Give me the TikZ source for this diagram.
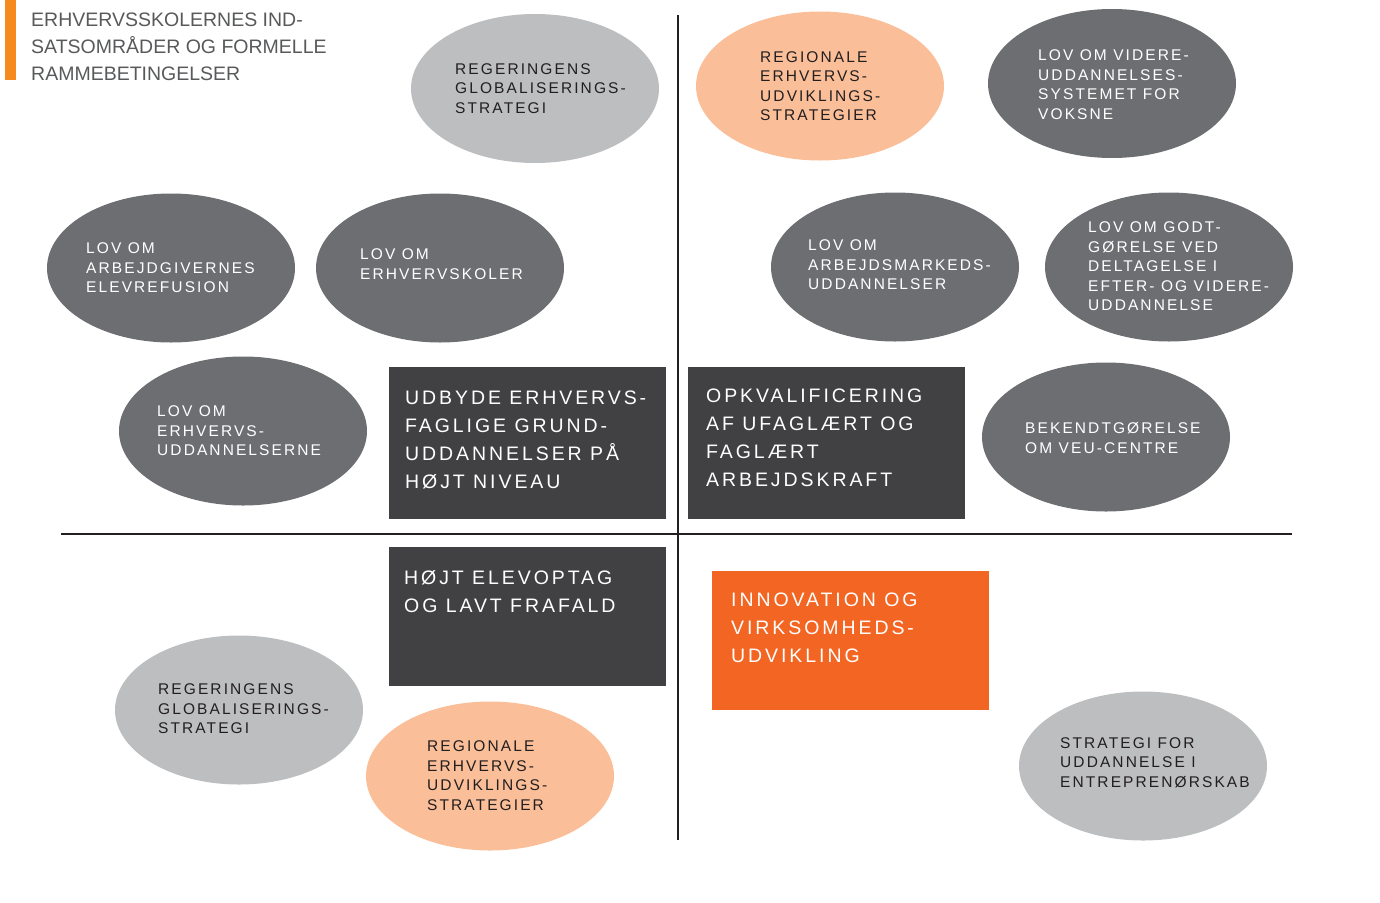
\documentclass[tikz,border=0pt]{standalone}
\usepackage{fontspec}
\setmainfont{Liberation Sans}
\newfontfamily\ovalfont{Liberation Sans}[LetterSpace=13.5]
\newfontfamily\panelfont{Liberation Sans}[LetterSpace=15]
\usetikzlibrary{shapes.geometric}

\definecolor{lightgrey}{HTML}{BCBEC0}
\definecolor{peach}{HTML}{FABE98}
\definecolor{midgrey}{HTML}{6D6E71}
\definecolor{panelgrey}{HTML}{414042}
\definecolor{signal}{HTML}{F26522}
\definecolor{barorange}{HTML}{F58A1F}
\definecolor{ink}{HTML}{231F20}
\definecolor{titlegrey}{HTML}{58595B}

\tikzset{
  oval/.style={ellipse, minimum width=248pt, minimum height=149pt, inner sep=0pt},
  lightoval/.style={oval, fill=lightgrey},
  peachoval/.style={oval, fill=peach},
  darkoval/.style={oval, fill=midgrey},
  ovaltext/.style={anchor=west, align=left, inner sep=0pt,
    font=\ovalfont\fontsize{15.5}{19.5}\selectfont, text=ink},
  ovaltextw/.style={ovaltext, text=white},
  panel/.style={anchor=north west, minimum width=277pt, inner sep=0pt, fill=panelgrey},
  paneltext/.style={anchor=north west, align=left, inner sep=0pt, text=white,
    font=\panelfont\fontsize{19.5}{28}\selectfont},
  axis/.style={draw=ink, line width=2pt},
}

\begin{document}
\begin{tikzpicture}[x=1pt, y=-1pt]
\useasboundingbox (0,0) rectangle (1380,902);

% heading with its accent bar
\fill[barorange] (5,0) rectangle (16,80);
\node[anchor=north west, align=left, inner sep=0pt, text=titlegrey,
  font=\fontsize{19.5}{27}\selectfont] (title) at (31,13)
  {ERHVERVSSKOLERNES IND-\\SATSOMRÅDER OG FORMELLE\\RAMMEBETINGELSER};

% quadrant axes
\coordinate (vtop) at (678,15);
\coordinate (vbot) at (678,840);
\coordinate (hleft) at (61,534);
\coordinate (hright) at (1292,534);
\draw[axis] (vtop) -- (vbot);
\draw[axis] (hleft) -- (hright);

% ovals
\node[lightoval] (e1) at (535,88.5) {};
\node[peachoval] (e2) at (820,86) {};
\node[darkoval] (e3) at (1112,83.5) {};
\node[darkoval] (e4) at (171,268) {};
\node[darkoval] (e5) at (440,268) {};
\node[darkoval] (e6) at (895,267) {};
\node[darkoval] (e7) at (1169,267) {};
\node[darkoval] (e8) at (243,431) {};
\node[darkoval] (e9) at (1106,437) {};
\node[lightoval] (e10) at (239,710) {};
\node[peachoval] (e11) at (490,776) {};
\node[lightoval] (e12) at (1143,766) {};

\node[ovaltext] (t1) at (455,88.5) {REGERINGENS\\GLOBALISERINGS-\\STRATEGI};
\node[ovaltext] (t2) at (760,86) {REGIONALE\\ERHVERVS-\\UDVIKLINGS-\\STRATEGIER};
\node[ovaltextw] (t3) at (1038,84.5) {LOV OM VIDERE-\\UDDANNELSES-\\SYSTEMET FOR\\VOKSNE};
\node[ovaltextw] (t4) at (86,268) {LOV OM\\ARBEJDGIVERNES\\ELEVREFUSION};
\node[ovaltextw] (t5) at (360,264) {LOV OM\\ERHVERVSKOLER};
\node[ovaltextw] (t6) at (808,265) {LOV OM\\ARBEJDSMARKEDS-\\UDDANNELSER};
\node[ovaltextw] (t7) at (1088,266.5) {LOV OM GODT-\\GØRELSE VED\\DELTAGELSE I\\EFTER- OG VIDERE-\\UDDANNELSE};
\node[ovaltextw] (t8) at (157,431) {LOV OM\\ERHVERVS-\\UDDANNELSERNE};
\node[ovaltextw] (t9) at (1025,438) {BEKENDTGØRELSE\\OM VEU-CENTRE};
\node[ovaltext] (t10) at (158,709) {REGERINGENS\\GLOBALISERINGS-\\STRATEGI};
\node[ovaltext] (t11) at (427,775.5) {REGIONALE\\ERHVERVS-\\UDVIKLINGS-\\STRATEGIER};
\node[ovaltext] (t12) at (1060,762.5) {STRATEGI FOR\\UDDANNELSE I\\ENTREPRENØRSKAB};

% goal panels
\node[panel, minimum height=152pt] (r1) at (389,367) {};
\node[panel, minimum height=152pt] (r2) at (688,367) {};
\node[panel, minimum height=139pt] (r3) at (389,547) {};
\node[panel, minimum height=139pt, fill=signal] (r4) at (712,571) {};

\node[paneltext] (p1) at (405,391) {UDBYDE ERHVERVS-\\FAGLIGE GRUND-\\UDDANNELSER PÅ\\HØJT NIVEAU};
\node[paneltext] (p2) at (706,389) {OPKVALIFICERING\\AF UFAGLÆRT OG\\FAGLÆRT\\ARBEJDSKRAFT};
\node[paneltext] (p3) at (404,570) {HØJT ELEVOPTAG\\OG LAVT FRAFALD};
\node[paneltext] (p4) at (731,593) {INNOVATION OG\\VIRKSOMHEDS-\\UDVIKLING};
\end{tikzpicture}
\end{document}
